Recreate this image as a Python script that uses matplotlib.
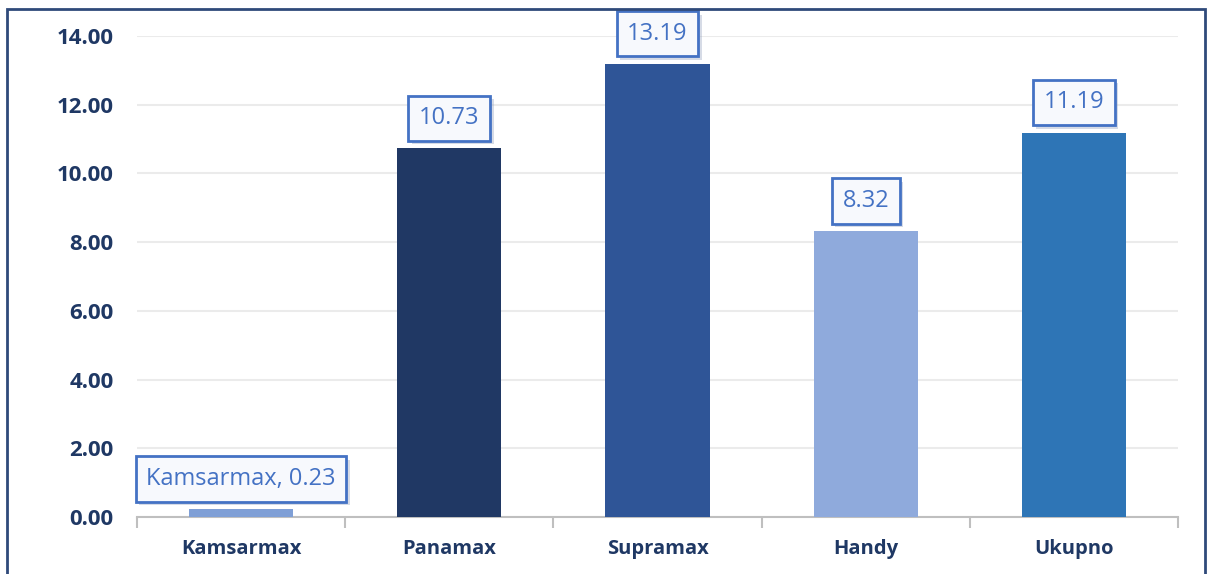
import numpy as np
import matplotlib.pyplot as plt
from matplotlib import patheffects
from matplotlib.patches import Rectangle

# Podaci
kategorije = ['Kamsarmax', 'Panamax', 'Supramax', 'Handy', 'Ukupno']
vrijednosti = [0.23, 10.73, 13.19, 8.32, 11.19]
oznake = ['Kamsarmax, 0.23', '10.73', '13.19', '8.32', '11.19']
boje = ['#7F9FD6', '#203864', '#2F5597', '#8FAADC', '#2E75B6']
y_ticks = [0, 2, 4, 6, 8, 10, 12, 14]

plt.rcParams['font.family'] = ['Open Sans', 'DejaVu Sans']

fig = plt.figure(figsize=(12.08, 5.74), dpi=100)
ax = fig.add_axes([137 / 1208, 1 - 517 / 574, (1178 - 137) / 1208, (517 - 36) / 574])

x = np.arange(len(kategorije))
ax.bar(x, vrijednosti, width=0.5, color=boje, zorder=3)

ax.set_xlim(-0.5, len(kategorije) - 0.5)
ax.set_ylim(0, 14)
ax.set_yticks(y_ticks)
ax.set_yticklabels([f'{v:.2f}' for v in y_ticks], fontsize=16, fontweight='bold', color='#1F3864')
ax.tick_params(axis='y', length=0, pad=17)
ax.grid(axis='y', color='#EBEBEB', lw=1.5, zorder=0)

ax.set_xticks(x)
ax.set_xticklabels(kategorije, fontsize=14.5, fontweight='bold', color='#1F3864')
ax.set_xticks(np.arange(-0.5, len(kategorije)), minor=True)
ax.tick_params(axis='x', which='major', length=0, pad=16)
ax.tick_params(axis='x', which='minor', length=8, width=1.5, color='#BFBFBF')

for s in ['top', 'right', 'left']:
    ax.spines[s].set_visible(False)
ax.spines['bottom'].set_color('#BFBFBF')
ax.spines['bottom'].set_linewidth(1.5)

# Oznake podataka u okvirima
for xi, v, t in zip(x, vrijednosti, oznake):
    ann = ax.annotate(t, (xi, v), xytext=(0, 13), textcoords='offset points',
                      ha='center', va='bottom', fontsize=17, color='#4472C4',
                      bbox=dict(boxstyle='square,pad=0.45', fc='#F7F9FD', ec='#4472C4', lw=2),
                      zorder=5)
    ann.get_bbox_patch().set_path_effects([
        patheffects.SimplePatchShadow(offset=(2.5, -2.5), shadow_rgbFace='#8A9AB8', alpha=0.35),
        patheffects.Normal()])

# Okvir oko grafikona
fig.patches.append(Rectangle((7 / 1208, -0.05), (1205 - 7) / 1208, 1.05 - 9 / 574,
                             transform=fig.transFigure, fill=False,
                             edgecolor='#2F4A7A', lw=2))

fig.savefig('out.png', dpi=100)
